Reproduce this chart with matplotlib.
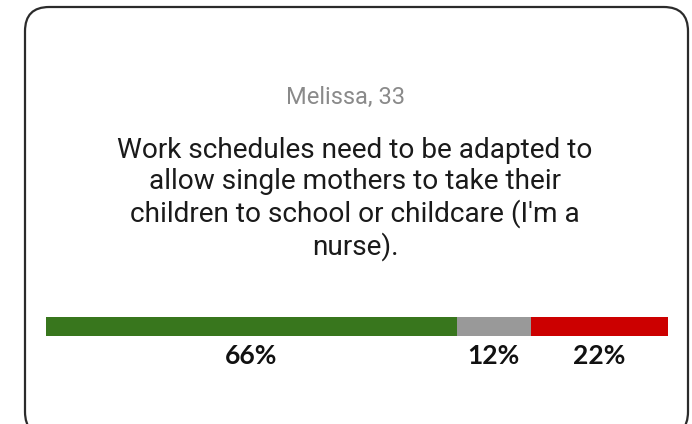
import matplotlib
matplotlib.use("Agg")
import matplotlib.pyplot as plt
from matplotlib.patches import FancyBboxPatch

# data
author = "Melissa, 33"
quote = ("Work schedules need to be adapted to\n"
         "allow single mothers to take their\n"
         "children to school or childcare (I'm a\n"
         "nurse).")
shares = [66, 12, 22]
labels = ["66%", "12%", "22%"]
colors = ["#38761d", "#999999", "#cc0000"]

W, H = 692, 424
fig = plt.figure(figsize=(W / 100, H / 100), dpi=100)
fig.patch.set_facecolor("white")

# card outline (pixel coords converted to figure fraction)
card = FancyBboxPatch((25 / W, -12 / H), 663 / W, (H - 7 + 12) / H,
                      boxstyle="round,pad=0,rounding_size=0.035",
                      transform=fig.transFigure, facecolor="white",
                      edgecolor="#2b2b2b", linewidth=1.6,
                      mutation_aspect=W / H, zorder=-5)
fig.patches.append(card)

fig.text(346 / W, 1 - 97 / H, author, ha="center", va="center",
         fontsize=17, color="#8a8a8a", family="Roboto")
fig.text(355 / W, 1 - 199 / H, quote, ha="center", va="center",
         fontsize=20.2, color="#1a1a1a", family="Roboto", linespacing=1.2)

# stacked bar
ax = fig.add_axes([46 / W, 1 - 336 / H, 622 / W, 19 / H])
ax.set_zorder(2)
left = 0
for v, lab, c in zip(shares, labels, colors):
    ax.barh(0, v, left=left, height=1, color=c)
    ax.annotate(lab, (left + v / 2, 0), xytext=(0, -21), textcoords="offset points",
                ha="center", va="center", fontsize=19, fontweight="bold",
                family="Lato", color="#111111", annotation_clip=False)
    left += v
ax.set_xlim(0, sum(shares))
ax.set_ylim(-0.5, 0.5)
ax.axis("off")

fig.savefig("out.png", dpi=100)
